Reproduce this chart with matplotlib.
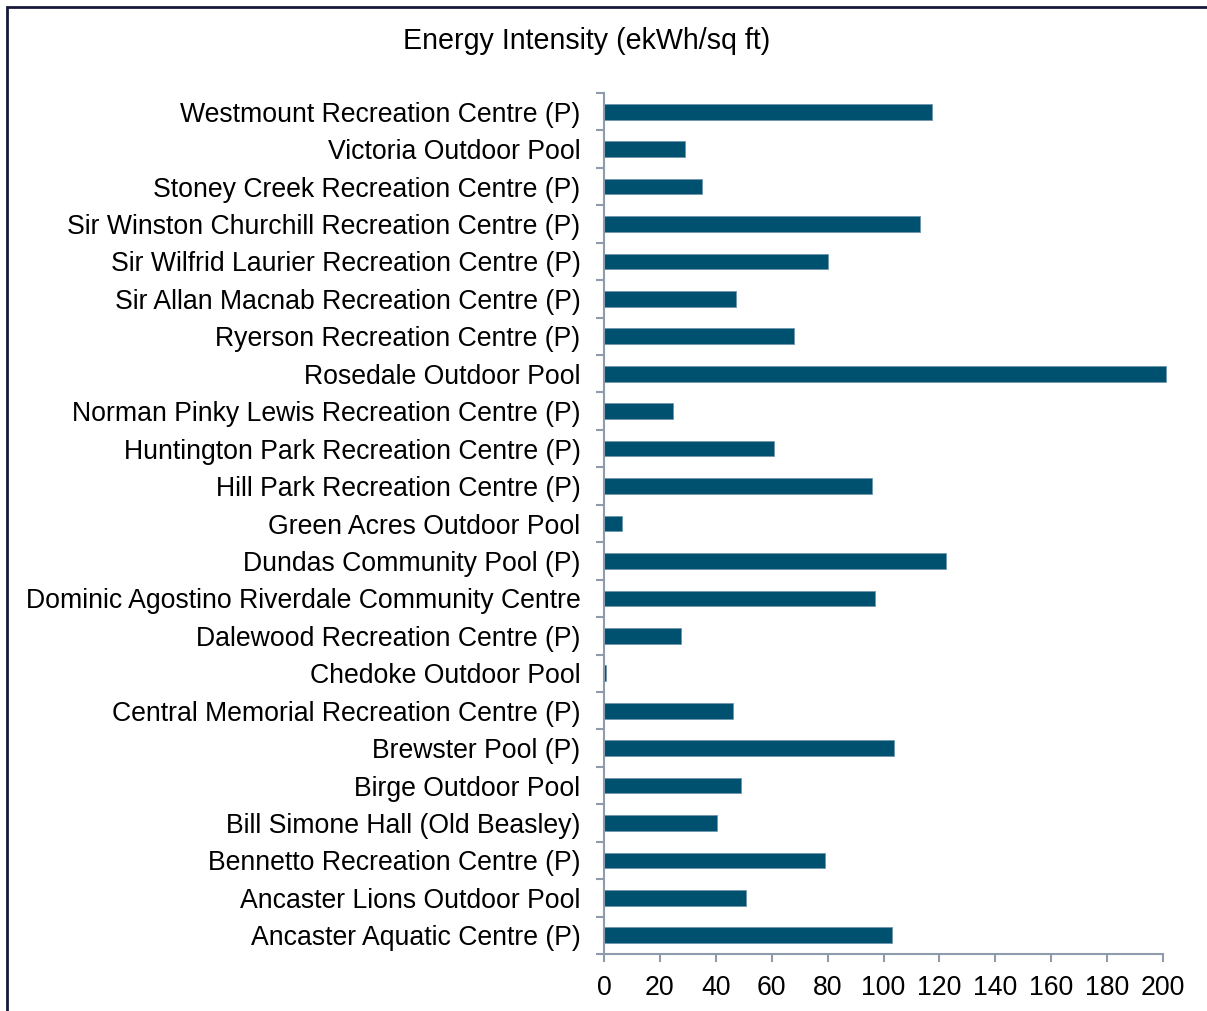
import numpy as np
import matplotlib
matplotlib.use("Agg")
import matplotlib.pyplot as plt
from matplotlib.patches import Rectangle

plt.rcParams['font.family'] = ['Liberation Sans', 'DejaVu Sans']

# facilities, bottom to top as drawn
facilities = [
    "Ancaster Aquatic Centre (P)",
    "Ancaster Lions Outdoor Pool",
    "Bennetto Recreation Centre (P)",
    "Bill Simone Hall (Old Beasley)",
    "Birge Outdoor Pool",
    "Brewster Pool (P)",
    "Central Memorial Recreation Centre (P)",
    "Chedoke Outdoor Pool",
    "Dalewood Recreation Centre (P)",
    "Dominic Agostino Riverdale Community Centre",
    "Dundas Community Pool (P)",
    "Green Acres Outdoor Pool",
    "Hill Park Recreation Centre (P)",
    "Huntington Park Recreation Centre (P)",
    "Norman Pinky Lewis Recreation Centre (P)",
    "Rosedale Outdoor Pool",
    "Ryerson Recreation Centre (P)",
    "Sir Allan Macnab Recreation Centre (P)",
    "Sir Wilfrid Laurier Recreation Centre (P)",
    "Sir Winston Churchill Recreation Centre (P)",
    "Stoney Creek Recreation Centre (P)",
    "Victoria Outdoor Pool",
    "Westmount Recreation Centre (P)",
]
intensity = [
    102.9, 50.7, 78.9, 40.4, 48.9, 103.6, 46.0, 0.6, 27.5, 96.8, 122.5, 6.4,
    96.0, 61.0, 24.6, 201.0, 67.9, 47.1, 80.0, 113.2, 35.0, 28.9, 117.5,
]
xticks = [0, 20, 40, 60, 80, 100, 120, 140, 160, 180, 200]

bar_color = "#00506f"
axis_color = "#8d9bad"

fig = plt.figure(figsize=(12.07, 10.11), dpi=100)
ax = fig.add_axes([604 / 1207, 1 - 954 / 1011, 559 / 1207, (954 - 93) / 1011])

y = np.arange(len(facilities))
bars = ax.barh(y, intensity, height=0.42, color=bar_color,
               edgecolor="#6f96ad", linewidth=0.6)
for b in bars:
    b.set_clip_on(False)

ax.set_xlim(0, 200)
ax.set_ylim(-0.5, len(facilities) - 0.5)
ax.set_xticks(xticks)
ax.set_xticklabels([str(v) for v in xticks], fontsize=19.2)
ax.set_yticks(y)
ax.set_yticklabels(facilities, fontsize=19.2)
ax.set_yticks(np.arange(-0.5, len(facilities)), minor=True)

ax.tick_params(axis='y', which='major', length=0, pad=17)
ax.tick_params(axis='y', which='minor', length=6, width=1.5, color=axis_color, direction='out')
ax.tick_params(axis='x', length=6, width=1.5, color=axis_color, direction='out', pad=9)

for side in ("top", "right"):
    ax.spines[side].set_visible(False)
for side in ("left", "bottom"):
    ax.spines[side].set_color(axis_color)
    ax.spines[side].set_linewidth(1.5)

fig.text(587 / 1207, 1 - 41 / 1011, "Energy Intensity (ekWh/sq ft)",
         ha="center", va="center", fontsize=20.6)

# outer chart frame
fig.patches.append(Rectangle((7 / 1207, -0.05), 1.2, 1 - 7 / 1011 + 0.05,
                             transform=fig.transFigure, fill=False,
                             edgecolor="#17173a", linewidth=2))

fig.savefig("out.png", dpi=100, facecolor="white")
